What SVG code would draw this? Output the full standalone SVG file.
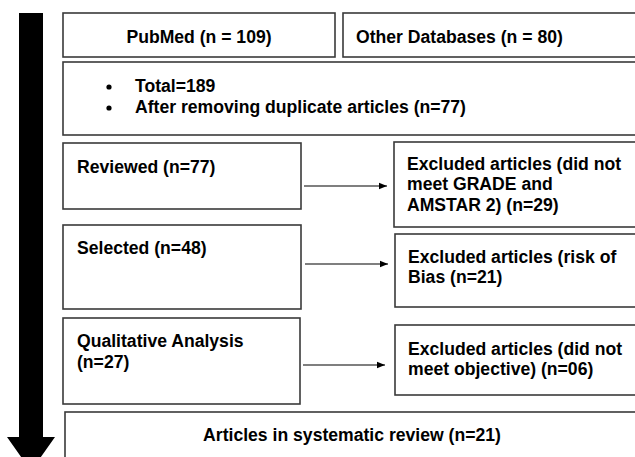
<svg xmlns="http://www.w3.org/2000/svg" width="635" height="457" viewBox="0 0 635 457">
<defs>
<style>
.box{fill:#fff;stroke:#3a3a3a;stroke-width:1.6}
.t{font-family:"Liberation Sans",Arial,sans-serif;font-weight:bold;font-size:17.6px;fill:#000}
.c{stroke:#000;stroke-width:1.2;fill:none}
</style>
<marker id="ah" viewBox="0 0 10 10" refX="10" refY="5" markerWidth="8" markerHeight="8" markerUnits="userSpaceOnUse" orient="auto">
<path d="M0,1 L10,5 L0,9 Z" fill="#000"/>
</marker>
</defs>
<rect width="635" height="457" fill="#fff"/>
<g id="flow-arrow">
<path d="M19,13 H43 V437 H55 L31,471 L7,437 H19 Z" fill="#000"/>
</g>
<g id="pubmed">
<rect class="box" x="63" y="13" width="272" height="44"/>
<text class="t" x="199" y="43" text-anchor="middle">PubMed (n = 109)</text>
</g>
<g id="other-databases">
<rect class="box" x="343" y="13" width="300" height="44"/>
<text class="t" x="356" y="43">Other Databases (n = 80)</text>
</g>
<g id="total">
<rect class="box" x="63" y="62" width="580" height="73"/>
<circle cx="109" cy="87" r="2.6" fill="#000"/>
<text class="t" x="135" y="92">Total=189</text>
<circle cx="109" cy="108" r="2.6" fill="#000"/>
<text class="t" x="135" y="113">After removing duplicate articles (n=77)</text>
</g>
<g id="reviewed">
<rect class="box" x="63" y="143" width="238" height="66"/>
<text class="t" x="77" y="173">Reviewed (n=77)</text>
</g>
<g id="excluded-1">
<rect class="box" x="394" y="142" width="249" height="85"/>
<text class="t" x="407" y="170">Excluded articles (did not</text>
<text class="t" x="407" y="190">meet GRADE and</text>
<text class="t" x="407" y="211">AMSTAR 2) (n=29)</text>
</g>
<g id="selected">
<rect class="box" x="63" y="225" width="238" height="84"/>
<text class="t" x="77" y="254">Selected (n=48)</text>
</g>
<g id="excluded-2">
<rect class="box" x="395" y="234" width="248" height="73"/>
<text class="t" x="408" y="263">Excluded articles (risk of</text>
<text class="t" x="408" y="283">Bias (n=21)</text>
</g>
<g id="qualitative">
<rect class="box" x="63" y="318" width="237" height="86"/>
<text class="t" x="77" y="347">Qualitative Analysis</text>
<text class="t" x="77" y="368">(n=27)</text>
</g>
<g id="excluded-3">
<rect class="box" x="395" y="325" width="248" height="70"/>
<text class="t" x="408" y="355">Excluded articles (did not</text>
<text class="t" x="408" y="375">meet objective) (n=06)</text>
</g>
<g id="final">
<rect class="box" x="65" y="412" width="578" height="60"/>
<text class="t" x="352" y="441" text-anchor="middle">Articles in systematic review (n=21)</text>
</g>
<g id="connectors">
<line class="c" x1="304" y1="186" x2="387" y2="186" marker-end="url(#ah)"/>
<line class="c" x1="305" y1="264" x2="388" y2="264" marker-end="url(#ah)"/>
<line class="c" x1="303" y1="365" x2="385" y2="365" marker-end="url(#ah)"/>
</g>
</svg>
